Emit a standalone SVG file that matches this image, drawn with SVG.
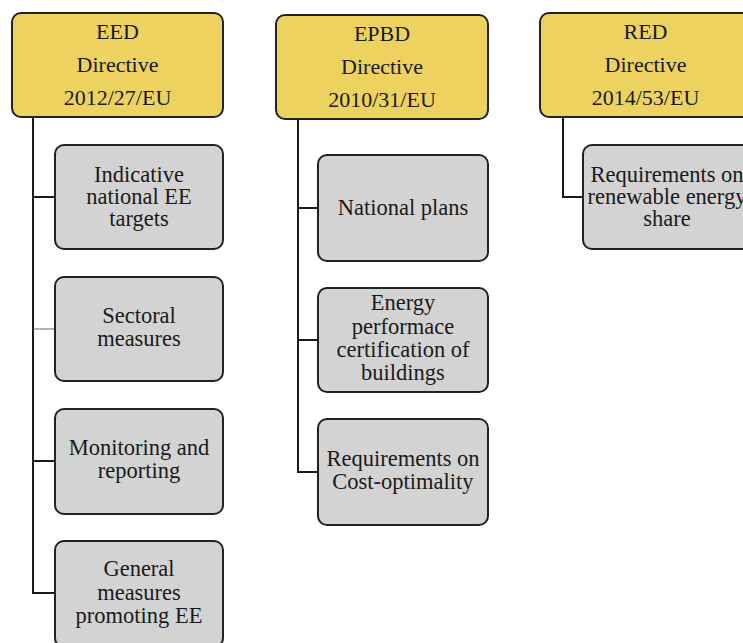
<svg xmlns="http://www.w3.org/2000/svg" width="743" height="643" viewBox="0 0 743 643">
<style>
.hdr{fill:#EDD260;stroke:#222;stroke-width:2}
.box{fill:#D3D3D3;stroke:#222;stroke-width:2}
.conn{fill:none;stroke:#1a1a1a;stroke-width:2}
.thin{fill:none;stroke:#666;stroke-width:1}
</style>
<rect width="743" height="643" fill="#fff"/>
<g id="connectors">
<path class="conn" d="M33 117 V593 H55 M33 197 H55 M33 461 H55"/>
<path class="thin" d="M33 329 H55"/>
<path class="conn" d="M298 119 V472 H318 M298 208 H318 M298 340 H318"/>
<path class="conn" d="M563 117 V197 H583"/>
</g>
<g font-family="'Liberation Serif', 'DejaVu Serif', serif" fill="#1a1a1a" text-anchor="middle">
<g id="eed" font-size="22">
<rect class="hdr" x="12" y="13" width="211" height="104" rx="9"/>
<text x="117.5" y="39">EED</text>
<text x="117.5" y="72">Directive</text>
<text x="117.5" y="105">2012/27/EU</text>
</g>
<g id="eed-targets" font-size="22.5">
<rect class="box" x="55" y="145" width="168" height="104" rx="9"/>
<text x="139" y="182">Indicative</text>
<text x="139" y="204">national EE</text>
<text x="139" y="226">targets</text>
</g>
<g id="eed-sectoral" font-size="22.5">
<rect class="box" x="55" y="277" width="168" height="104" rx="9"/>
<text x="139" y="323">Sectoral</text>
<text x="139" y="346">measures</text>
</g>
<g id="eed-monitoring" font-size="22.5">
<rect class="box" x="55" y="409" width="168" height="105" rx="9"/>
<text x="139" y="455">Monitoring and</text>
<text x="139" y="478">reporting</text>
</g>
<g id="eed-general" font-size="22.5">
<rect class="box" x="55" y="541" width="168" height="106" rx="9"/>
<text x="139" y="576">General</text>
<text x="139" y="600">measures</text>
<text x="139" y="623">promoting EE</text>
</g>
<g id="epbd" font-size="22">
<rect class="hdr" x="276" y="15" width="212" height="104" rx="9"/>
<text x="382" y="41">EPBD</text>
<text x="382" y="74">Directive</text>
<text x="382" y="107">2010/31/EU</text>
</g>
<g id="epbd-plans" font-size="22.5">
<rect class="box" x="318" y="155" width="170" height="106" rx="9"/>
<text x="403" y="215">National plans</text>
</g>
<g id="epbd-cert" font-size="22.5">
<rect class="box" x="318" y="288" width="170" height="104" rx="9"/>
<text x="403" y="310">Energy</text>
<text x="403" y="334">performace</text>
<text x="403" y="357">certification of</text>
<text x="403" y="380">buildings</text>
</g>
<g id="epbd-cost" font-size="22.5">
<rect class="box" x="318" y="419" width="170" height="106" rx="9"/>
<text x="403" y="466">Requirements on</text>
<text x="403" y="489">Cost-optimality</text>
</g>
<g id="red" font-size="22">
<rect class="hdr" x="540" y="13" width="211" height="104" rx="9"/>
<text x="645.5" y="39">RED</text>
<text x="645.5" y="72">Directive</text>
<text x="645.5" y="105">2014/53/EU</text>
</g>
<g id="red-share" font-size="22.5">
<rect class="box" x="583" y="145" width="168" height="104" rx="9"/>
<text x="667" y="182">Requirements on</text>
<text x="667" y="204">renewable energy</text>
<text x="667" y="226">share</text>
</g>
</g>
</svg>
